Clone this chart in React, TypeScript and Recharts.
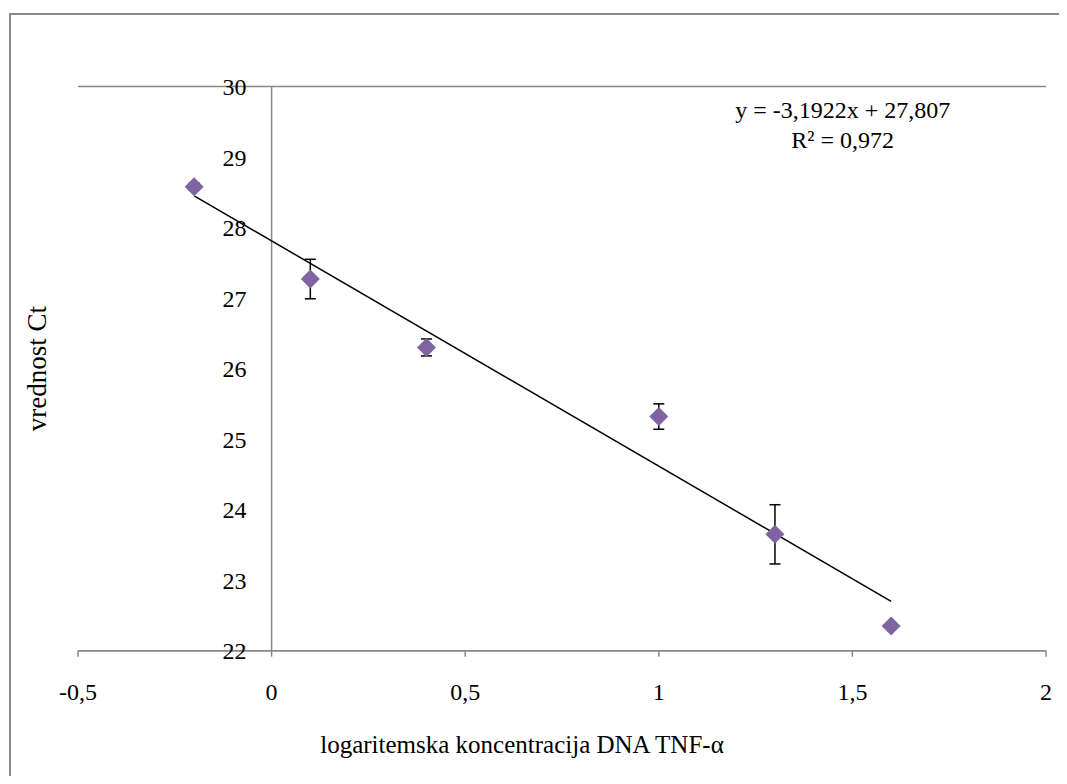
import React from "react";
import {
  CartesianGrid,
  ErrorBar,
  ReferenceDot,
  ReferenceLine,
  Scatter,
  ScatterChart,
  XAxis,
  YAxis,
} from "recharts";

// log concentration of TNF-alpha DNA vs. Ct value
const logConc = [-0.2, 0.1, 0.4, 1, 1.3, 1.6];
const ctValues = [28.58, 27.27, 26.3, 25.32, 23.65, 22.35];
const ctErrors = [0.05, 0.28, 0.12, 0.18, 0.42, 0];

const xTicks = [-0.5, 0, 0.5, 1, 1.5, 2];
const yTicks = [22, 23, 24, 25, 26, 27, 28, 29, 30];

// linear trendline endpoints as drawn
const trendX = [-0.2, 1.6];
const trendY = [28.45, 22.7];

const equationLines = ["y = -3,1922x + 27,807", "R² = 0,972"];

const points = logConc.map((x, i) => ({ x, ct: ctValues[i], err: ctErrors[i] }));

const FONT = "Liberation Serif, Times New Roman, serif";
const GRID = "#888888";
const PURPLE = "#8064A2";

const fmt = (v: number) => String(v).replace(".", ",");

const Diamond = (props: any) => {
  const { cx, cy } = props;
  if (cx == null || cy == null) return null;
  const r = 9.5;
  return <path d={`M${cx},${cy - r}L${cx + r},${cy}L${cx},${cy + r}L${cx - r},${cy}Z`} fill={PURPLE} />;
};

export default function App() {
  return (
    <div style={{ position: "relative", width: 1051, height: 768, overflow: "hidden", fontFamily: FONT }}>
      <div
        style={{
          position: "absolute",
          left: 1,
          top: 5,
          width: 1200,
          height: 1000,
          borderLeft: "2px solid #8a8a8a",
          borderTop: "2px solid #8a8a8a",
          boxSizing: "border-box",
        }}
      />
      <div style={{ position: "absolute", left: 0, top: 0 }}>
        <ScatterChart width={1059} height={776} margin={{ top: 78.5, right: 21, left: 0, bottom: 23.3 }}>
          <CartesianGrid vertical={false} stroke={GRID} strokeWidth={1.5} />
          <XAxis
            type="number"
            dataKey="x"
            domain={[-0.5, 2]}
            ticks={xTicks}
            tickFormatter={fmt}
            height={110}
            stroke={GRID}
            strokeWidth={1.5}
            tickSize={6}
            tickMargin={26}
            tick={{ fill: "#000", fontSize: 24, fontFamily: FONT }}
            label={{
              content: ({ viewBox }: any) => (
                <text
                  x={viewBox.x + viewBox.width / 2 - 40}
                  y={viewBox.y + viewBox.height - 8}
                  textAnchor="middle"
                  fill="#000"
                  fontSize={25}
                  fontFamily={FONT}
                >
                  logaritemska koncentracija DNA TNF-α
                </text>
              ),
            }}
          />
          <YAxis
            type="number"
            dataKey="ct"
            domain={[22, 30]}
            ticks={yTicks}
            width={70}
            tick={false}
            tickLine={false}
            axisLine={false}
            label={{
              content: ({ viewBox }: any) => {
                const cx = viewBox.x + 29;
                const cy = viewBox.y + viewBox.height / 2;
                return (
                  <text
                    x={cx}
                    y={cy}
                    transform={`rotate(-90 ${cx} ${cy})`}
                    textAnchor="middle"
                    dominantBaseline="central"
                    fill="#000"
                    fontSize={27}
                    fontFamily={FONT}
                  >
                    vrednost Ct
                  </text>
                );
              },
            }}
          />
          <ReferenceLine x={0} stroke={GRID} strokeWidth={1.5} />
          {yTicks.map((v) => (
            <ReferenceDot
              key={v}
              x={0}
              y={v}
              r={0}
              fill="none"
              stroke="none"
              label={{ value: v, position: "left", offset: 25, fill: "#000", fontSize: 24, fontFamily: FONT }}
            />
          ))}
          <Scatter data={points} shape={Diamond} isAnimationActive={false}>
            <ErrorBar dataKey="err" direction="y" width={5.5} stroke="#000" strokeWidth={1.5} />
          </Scatter>
          <ReferenceLine
            segment={[
              { x: trendX[0], y: trendY[0] },
              { x: trendX[1], y: trendY[1] },
            ]}
            stroke="#000"
            strokeWidth={1.5}
          />
          <ReferenceDot
            x={1.475}
            y={29.55}
            r={0}
            fill="none"
            stroke="none"
            label={{
              content: ({ viewBox }: any) => (
                <text textAnchor="middle" fill="#000" fontSize={24} fontFamily={FONT}>
                  <tspan x={viewBox.x} y={viewBox.y}>
                    {equationLines[0]}
                  </tspan>
                  <tspan x={viewBox.x} y={viewBox.y + 30}>
                    {equationLines[1]}
                  </tspan>
                </text>
              ),
            }}
          />
        </ScatterChart>
      </div>
    </div>
  );
}
